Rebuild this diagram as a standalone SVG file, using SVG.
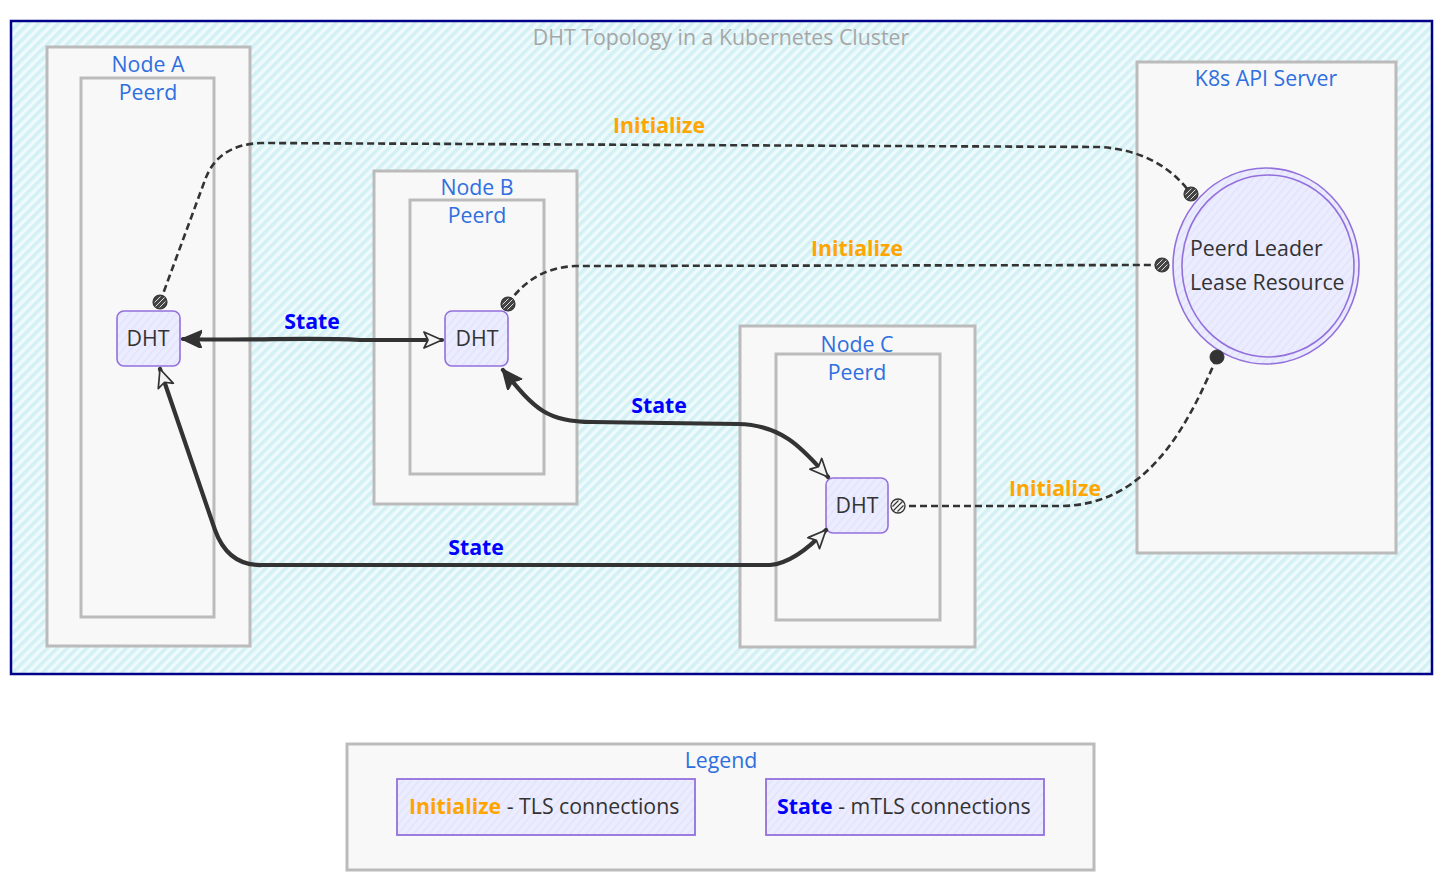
<svg xmlns="http://www.w3.org/2000/svg" width="1443" height="883" viewBox="0 0 1443 883">
<defs>
<pattern id="cyanHatch" width="7" height="7" patternUnits="userSpaceOnUse" patternTransform="rotate(45)">
<rect width="7" height="7" fill="#eefafb"/>
<rect width="3.5" height="7" fill="#d3f1f5"/>
</pattern>
<pattern id="purpleHatch" width="6" height="6" patternUnits="userSpaceOnUse" patternTransform="rotate(40)">
<rect width="6" height="6" fill="#ececff"/>
<rect width="1.5" height="6" fill="#e2e2fb"/>
</pattern>
<marker id="arrowFilled" markerUnits="userSpaceOnUse" markerWidth="24" markerHeight="20" refX="19" refY="9" orient="auto-start-reverse">
<path d="M0,0 L20,9 L0,18 L4,9 z" fill="#333" stroke="#333" stroke-width="1.5" stroke-linejoin="round"/>
</marker>
<marker id="arrowOpen" markerUnits="userSpaceOnUse" markerWidth="24" markerHeight="20" refX="19" refY="9" orient="auto-start-reverse">
<path d="M1,1 L19,9 L1,17 L5,9 z" fill="#f4f4f4" stroke="#333" stroke-width="1.7" stroke-linejoin="round"/>
</marker>
<marker id="dotHatch" markerUnits="userSpaceOnUse" markerWidth="18" markerHeight="18" refX="9" refY="9" orient="0">
<circle cx="9" cy="9" r="7" fill="#444" stroke="#333" stroke-width="1.2"/>
<path d="M4.5,13.5 L13.5,4.5 M3.5,9.5 L9.5,3.5 M8.5,14.5 L14.5,8.5" stroke="#ddd" stroke-width="1"/>
</marker>
<marker id="dotLight" markerUnits="userSpaceOnUse" markerWidth="18" markerHeight="18" refX="9" refY="9" orient="0">
<circle cx="9" cy="9" r="7" fill="#f4f4f4" stroke="#333" stroke-width="1.3"/>
<path d="M4.5,13.5 L13.5,4.5 M3.5,9.5 L9.5,3.5 M8.5,14.5 L14.5,8.5" stroke="#333" stroke-width="1.2"/>
</marker>
<marker id="dotSolid" markerUnits="userSpaceOnUse" markerWidth="18" markerHeight="18" refX="9" refY="9" orient="0">
<circle cx="9" cy="9" r="7" fill="#333" stroke="#333" stroke-width="1"/>
</marker>
<style>
text { font-family: "Open Sans", "Noto Sans", "Liberation Sans", sans-serif; dominant-baseline: central; font-size: 21.3px; }
.cluster { fill: #f8f8f8; stroke: #bbbbbb; stroke-width: 3; }
.clabel { fill: #2f6fdf; text-anchor: middle; }
.dht { fill: url(#purpleHatch); stroke: #9370db; stroke-width: 1.6; }
.dhtText { fill: #333; text-anchor: middle; }
.init { fill: none; stroke: #333; stroke-width: 2.6; stroke-dasharray: 7 4; }
.state { fill: none; stroke: #333; stroke-width: 4.2; stroke-linecap: round; }
.initLabel { fill: #ffa500; font-weight: bold; text-anchor: middle; }
.stateLabel { fill: #0000ff; font-weight: bold; text-anchor: middle; }
</style>
</defs>

<rect width="1443" height="883" fill="#ffffff"/>

<g id="cluster-main">
<rect x="11" y="21" width="1421" height="653" fill="url(#cyanHatch)" stroke="#000088" stroke-width="2.5"/>
<text x="721" y="36" fill="#a6a6a6" text-anchor="middle">DHT Topology in a Kubernetes Cluster</text>
</g>

<g id="nodeA">
<rect class="cluster" x="47" y="47" width="203" height="599"/>
<text class="clabel" x="148" y="63">Node A</text>
<g id="peerdA">
<rect class="cluster" x="81" y="78" width="133" height="539"/>
<text class="clabel" x="148" y="91">Peerd</text>
</g>
</g>

<g id="nodeB">
<rect class="cluster" x="374" y="171" width="203" height="333"/>
<text class="clabel" x="477" y="186">Node B</text>
<g id="peerdB">
<rect class="cluster" x="410" y="200" width="134" height="274"/>
<text class="clabel" x="477" y="214">Peerd</text>
</g>
</g>

<g id="nodeC">
<rect class="cluster" x="740" y="326" width="235" height="321"/>
<text class="clabel" x="857" y="343">Node C</text>
<g id="peerdC">
<rect class="cluster" x="776" y="354" width="164" height="266"/>
<text class="clabel" x="857" y="371">Peerd</text>
</g>
</g>

<g id="k8sApi">
<rect class="cluster" x="1137" y="62" width="259" height="491"/>
<text class="clabel" x="1266" y="77">K8s API Server</text>
</g>

<g id="dhtA">
<rect class="dht" x="117" y="311" width="63" height="55" rx="7"/>
<text class="dhtText" x="148" y="337">DHT</text>
</g>
<g id="dhtB">
<rect class="dht" x="445" y="311" width="63" height="55" rx="7"/>
<text class="dhtText" x="477" y="337">DHT</text>
</g>
<g id="dhtC">
<rect class="dht" x="826" y="478" width="62" height="55" rx="7"/>
<text class="dhtText" x="857" y="504">DHT</text>
</g>

<g id="lease">
<ellipse cx="1266" cy="266" rx="93" ry="98" fill="url(#purpleHatch)" stroke="#9370db" stroke-width="1.6"/>
<ellipse cx="1268" cy="266" rx="86" ry="91" fill="none" stroke="#9370db" stroke-width="1.6"/>
<text x="1190" y="247" fill="#333">Peerd Leader</text>
<text x="1190" y="281" fill="#333">Lease Resource</text>
</g>

<g id="connectors">
<path class="init" d="M160,302 L205,180 Q218,144 262,143 L1100,147 Q1160,151 1191,194" marker-start="url(#dotHatch)" marker-end="url(#dotHatch)"/>
<path class="init" d="M508,304 Q532,268 575,266 L1162,265" marker-start="url(#dotHatch)" marker-end="url(#dotHatch)"/>
<path class="init" d="M898,506 L1060,506 C1150,506 1190,420 1217,357" marker-start="url(#dotLight)" marker-end="url(#dotSolid)"/>
<path class="state" d="M183,339 C260,341 300,337 360,340 L442,340" marker-start="url(#arrowFilled)" marker-end="url(#arrowOpen)"/>
<path class="state" d="M503,370 C535,410 548,422 592,422 L738,424 C785,425 805,452 828,477" marker-start="url(#arrowFilled)" marker-end="url(#arrowOpen)"/>
<path class="state" d="M160,369 L215,530 Q228,566 262,565 L770,565 Q795,563 826,530" marker-start="url(#arrowOpen)" marker-end="url(#arrowOpen)"/>
<text class="initLabel" x="659" y="124">Initialize</text>
<text class="initLabel" x="857" y="247">Initialize</text>
<text class="initLabel" x="1055" y="487">Initialize</text>
<text class="stateLabel" x="312" y="320">State</text>
<text class="stateLabel" x="659" y="404">State</text>
<text class="stateLabel" x="476" y="546">State</text>
</g>

<g id="legend">
<rect class="cluster" x="347" y="744" width="747" height="126"/>
<text class="clabel" x="721" y="759">Legend</text>
<g id="legendInit">
<rect x="397" y="779" width="298" height="56" fill="url(#purpleHatch)" stroke="#9370db" stroke-width="1.8"/>
<text x="409" y="805"><tspan fill="#ffa500" font-weight="bold">Initialize</tspan><tspan fill="#333"> - TLS connections</tspan></text>
</g>
<g id="legendState">
<rect x="766" y="779" width="278" height="56" fill="url(#purpleHatch)" stroke="#9370db" stroke-width="1.8"/>
<text x="777" y="805"><tspan fill="#0000ff" font-weight="bold">State</tspan><tspan fill="#333"> - mTLS connections</tspan></text>
</g>
</g>
</svg>
